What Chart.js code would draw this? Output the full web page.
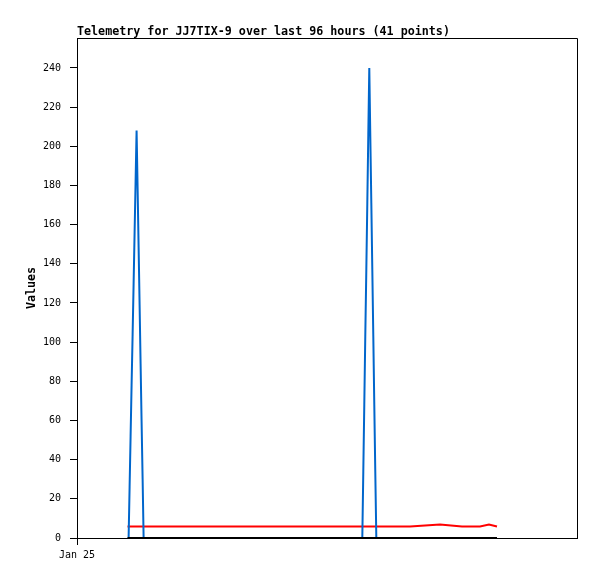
<!DOCTYPE html>
<html><head><meta charset="utf-8">
<script src="https://cdn.jsdelivr.net/npm/chart.js@4"></script>
<style>html,body{margin:0;padding:0;background:#fff}canvas{display:block}</style>
</head><body>
<canvas id="c" width="597" height="579"></canvas>
<script>
// ---- data (x = hours after Jan 25 00:00) ----
const chartTitle = 'Telemetry for JJ7TIX-9 over last 96 hours (41 points)';
const yAxisTitle = 'Values';
const xTickLabels = ['Jan 25'];
const xTickHours = [0];
const yTickValues = [0, 20, 40, 60, 80, 100, 120, 140, 160, 180, 200, 220, 240];

const blueHours = [9.91, 10.10, 10.29, 10.48, 10.68, 10.87, 11.06, 11.25, 11.44,
                   11.64, 11.83, 12.02, 12.21, 12.40, 12.60, 12.79,
                   54.78, 54.97, 55.16, 55.35, 55.55, 55.74, 55.93, 56.12,
                   56.31, 56.51, 56.70, 56.89, 57.08, 57.27, 57.47];
const blueValues = [0, 26, 52, 78, 104, 130, 156, 182, 208,
                    178, 148.5, 119, 89, 59.5, 30, 0,
                    0, 34, 68, 103, 137, 171, 206, 240,
                    206, 171, 137, 103, 68, 34, 0];

const redHours = [9.70, 11.44, 56.12, 63.94, 69.70, 73.92, 77.38, 79.10, 80.64];
const redValues = [5.9, 5.9, 5.9, 5.9, 6.9, 5.9, 5.9, 6.9, 5.9];

const blackHours = [9.70, 11.44, 56.12, 63.94, 69.70, 73.92, 77.38, 79.10, 80.64];
const blackValues = [0, 0, 0, 0, 0, 0, 0, 0, 0];

const pts = (xs, ys) => xs.map((x, i) => ({x: x, y: ys[i]}));

const framePlugin = {
  id: 'frame',
  afterDraw(chart) {
    const {ctx, chartArea: a} = chart;
    ctx.save();
    ctx.strokeStyle = '#000';
    ctx.lineWidth = 1;
    ctx.beginPath();
    ctx.moveTo(a.left, a.top + 0.5);
    ctx.lineTo(a.right + 0.5, a.top + 0.5);
    ctx.lineTo(a.right + 0.5, a.bottom);
    ctx.stroke();
    ctx.restore();
  }
};

const tickFont = {family: 'DejaVu Sans Mono', size: 10};
const boldFont = {family: 'DejaVu Sans Mono', size: 11.7, weight: 'bold', lineHeight: 1};

new Chart(document.getElementById('c'), {
  type: 'line',
  data: {
    datasets: [
      {label: 'black', data: pts(blackHours, blackValues), borderColor: '#000000', borderWidth: 2, pointRadius: 0, tension: 0, order: 0},
      {label: 'blue', data: pts(blueHours, blueValues), borderColor: '#0066cc', borderWidth: 2, pointRadius: 0, tension: 0, order: 1},
      {label: 'red', data: pts(redHours, redValues), borderColor: '#ff0000', borderWidth: 2, pointRadius: 0, tension: 0, order: 2}
    ]
  },
  options: {
    responsive: false,
    animation: false,
    devicePixelRatio: 1,
    layout: {padding: {left: 0, right: 20, top: 0, bottom: 0}},
    plugins: {
      legend: {display: false},
      tooltip: {enabled: false},
      title: {
        display: true, text: chartTitle, align: 'start', fullSize: false,
        color: '#000', font: boldFont, padding: {top: 26, bottom: 0.3}
      }
    },
    scales: {
      x: {
        type: 'linear', min: 0, max: 96,
        afterBuildTicks: s => { s.ticks = xTickHours.map(v => ({value: v})); },
        afterFit: s => { s.height = 41; },
        ticks: {
          autoSkip: false, maxRotation: 0, padding: 4, color: '#000', font: tickFont,
          callback: v => { const i = xTickHours.indexOf(v); return i >= 0 ? xTickLabels[i] : ''; }
        },
        grid: {drawOnChartArea: false, drawTicks: true, tickLength: 7, color: '#000'},
        border: {display: true, color: '#000', width: 1}
      },
      y: {
        type: 'linear', min: 0, max: 255.3,
        afterBuildTicks: s => { s.ticks = yTickValues.map(v => ({value: v})); },
        afterFit: s => { s.width = 77; },
        ticks: {padding: 9, color: '#000', font: tickFont},
        grid: {drawOnChartArea: false, drawTicks: true, tickLength: 7, color: '#000'},
        border: {display: true, color: '#000', width: 1},
        title: {display: true, text: yAxisTitle, color: '#000', font: boldFont, padding: {top: 26, bottom: 0}}
      }
    }
  },
  plugins: [framePlugin]
});
</script>
</body></html>
